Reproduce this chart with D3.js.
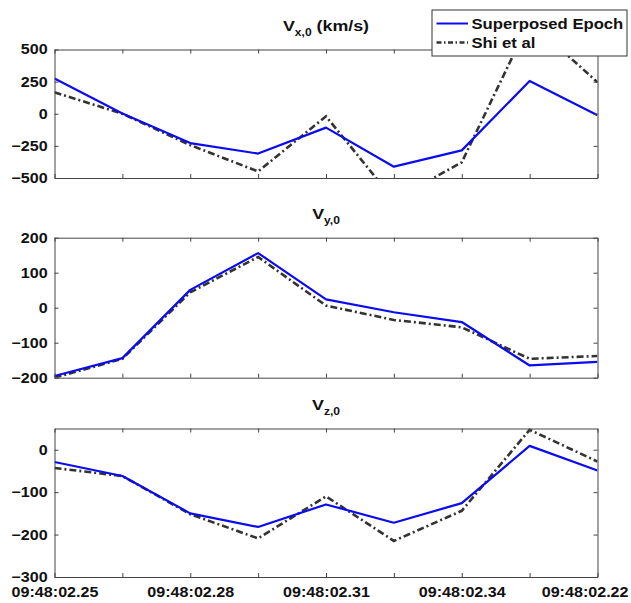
<!DOCTYPE html>
<html>
<head>
<meta charset="utf-8">
<script src="https://cdn.jsdelivr.net/npm/d3@7"></script>
<style>
  body { margin: 0; background: #fff; }
  svg text { font-family: "Liberation Sans", Arial, sans-serif; font-weight: bold; fill: #111; }
</style>
</head>
<body>
<div id="chart"></div>
<script>
// tick labels along the time axis (every other tick is unlabelled)
const timeLabels = ["09:48:02.25", "", "09:48:02.28", "", "09:48:02.31", "", "09:48:02.34", "", "09:48:02.22"];

const seriesNames = ["Superposed Epoch", "Shi et al"];

const vxEpoch = [274, 2, -228, -310, -108, -412, -285, 255, -12];
const vxShi = [167, 0, -244, -449, -20, -670, -378, 720, 245];

const vyEpoch = [-195, -144, 51, 156, 24, -13, -41, -165, -155];
const vyShi = [-200, -146, 44, 145, 6, -35, -56, -146, -138];

const vzEpoch = [-29, -62, -150, -182, -129, -172, -126, 9, -49];
const vzShi = [-43, -62, -152, -209, -110, -215, -144, 47, -28];

const vxTicks = [-500, -250, 0, 250, 500];
const vyTicks = [-200, -100, 0, 100, 200];
const vzTicks = [-300, -200, -100, 0];

const width = 631;
const height = 603;
const left = 54.5, right = 597.5;
const sx = 1.15; // the source figure is a bit stretched horizontally

const panels = [
  { main: "V", sub: "x,0", suffix: " (km/s)", domain: [-500, 500], ticks: vxTicks, top: 49.5, bottom: 178, a: vxEpoch, b: vxShi },
  { main: "V", sub: "y,0", suffix: "", domain: [-200, 200], ticks: vyTicks, top: 237.7, bottom: 377.7, a: vyEpoch, b: vyShi },
  { main: "V", sub: "z,0", suffix: "", domain: [-300, 50], ticks: vzTicks, top: 428.5, bottom: 577, a: vzEpoch, b: vzShi, labels: true }
];

const colors = ["#0b0bf0", "#333"];

const svg = d3.select("#chart")
  .append("svg")
  .attr("width", width)
  .attr("height", height);

const x = d3.scaleLinear()
  .domain([0, timeLabels.length - 1])
  .range([left, right]);

const idx = d3.range(timeLabels.length);

function squash(sel) {
  sel.selectAll("text").attr("transform", `scale(${sx},1)`);
}

panels.forEach((p, i) => {
  const y = d3.scaleLinear().domain(p.domain).range([p.bottom, p.top]);
  const g = svg.append("g");

  g.append("clipPath").attr("id", "clip" + i)
    .append("rect")
    .attr("x", left).attr("y", p.top)
    .attr("width", right - left).attr("height", p.bottom - p.top);

  const line = d3.line().x((d, j) => x(j)).y(d => y(d));

  g.append("path")
    .datum(p.b)
    .attr("clip-path", `url(#clip${i})`)
    .attr("fill", "none")
    .attr("stroke", colors[1])
    .attr("stroke-width", 2.6)
    .attr("stroke-dasharray", "7,3,2,3")
    .attr("d", line);

  g.append("path")
    .datum(p.a)
    .attr("clip-path", `url(#clip${i})`)
    .attr("fill", "none")
    .attr("stroke", colors[0])
    .attr("stroke-width", 2.2)
    .attr("stroke-linejoin", "round")
    .attr("d", line);

  // box with inward ticks, matlab style
  const axL = g.append("g").attr("transform", `translate(${left},0)`)
    .call(d3.axisLeft(y).tickValues(p.ticks).tickSize(-4).tickSizeOuter(0).tickPadding(6));
  axL.selectAll("text").style("font-size", "14px");
  squash(axL);

  g.append("g").attr("transform", `translate(${right},0)`)
    .call(d3.axisRight(y).tickValues(p.ticks).tickSize(-4).tickSizeOuter(0).tickFormat(""));

  g.append("g").attr("transform", `translate(0,${p.top})`)
    .call(d3.axisTop(x).tickValues(idx).tickSize(-4).tickSizeOuter(0).tickFormat(""));

  const axB = g.append("g").attr("transform", `translate(0,${p.bottom})`)
    .call(d3.axisBottom(x).tickValues(idx).tickSize(-4).tickSizeOuter(0).tickPadding(10.5)
      .tickFormat(j => p.labels ? timeLabels[j] : ""));
  axB.selectAll("text").style("font-size", "14px");
  squash(axB);
  // last label is pulled in so it stays inside the figure
  axB.selectAll(".tick").filter((d, j, n) => j === n.length - 1).select("text")
    .attr("text-anchor", "end")
    .attr("x", (628 - right) / sx);

  g.selectAll(".domain, .tick line").attr("stroke", "#444");

  const t = g.append("text")
    .attr("text-anchor", "middle")
    .attr("transform", `translate(${(left + right) / 2},${p.top - 19}) scale(${sx},1)`)
    .style("font-size", "15.5px");
  t.append("tspan").text(p.main);
  t.append("tspan").attr("dy", 5.5).style("font-size", "10.5px").text(p.sub);
  if (p.suffix) t.append("tspan").attr("dy", -5.5).text(p.suffix);
});

// legend
const legend = svg.append("g").attr("transform", "translate(432,10)");
legend.append("rect")
  .attr("width", 195).attr("height", 46)
  .attr("fill", "#fff").attr("stroke", "#333").attr("stroke-width", 1);

seriesNames.forEach((name, i) => {
  const cy = 13.5 + i * 19;
  legend.append("line")
    .attr("x1", 4.5).attr("x2", 36).attr("y1", cy).attr("y2", cy)
    .attr("stroke", colors[i])
    .attr("stroke-width", i ? 2.4 : 2)
    .attr("stroke-dasharray", i ? "5,2.5,1.5,2.5" : null);
  legend.append("text")
    .attr("transform", `translate(39.5,${cy + 5}) scale(${sx},1)`)
    .style("font-size", "14.5px")
    .text(name);
});
</script>
</body>
</html>
